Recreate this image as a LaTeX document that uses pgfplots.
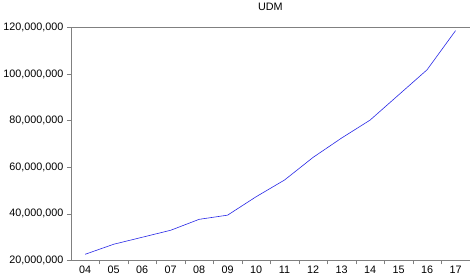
\documentclass[border=0pt]{standalone}
\usepackage{pgfplots}
\pgfplotsset{compat=1.18}
\usepackage{fontspec}
\setmainfont{Liberation Sans}
\definecolor{frame}{RGB}{128,128,128}
\definecolor{series}{RGB}{40,40,230}
\begin{document}
\begin{tikzpicture}
\begin{axis}[
  scale only axis,
  width=399pt, height=233pt,
  xmin=-0.5, xmax=13.5,
  ymin=20000000, ymax=120000000,
  xtick={0,...,13},
  xticklabels={04,05,06,07,08,09,10,11,12,13,14,15,16,17},
  major x tick style={draw=none},
  minor xtick={0.5,1.5,...,12.5},
  minor tick length=4pt,
  ytick={20000000,40000000,60000000,80000000,100000000,120000000},
  yticklabels={{20,000,000},{40,000,000},{60,000,000},{80,000,000},{100,000,000},{120,000,000}},
  scaled y ticks=false,
  tick align=outside,
  major tick length=4pt,
  xtick pos=bottom, ytick pos=left,
  axis line style={frame},
  tick style={frame},
  every tick label/.append style={font=\fontsize{10.8}{12}\selectfont},
  xticklabel style={yshift=2pt},
  title={UDM},
  title style={font=\fontsize{10.8}{12}\selectfont, yshift=7pt},
]
\addplot[series, line width=0.6pt] coordinates {
  (0,22600000) (1,26900000) (2,29900000) (3,32900000) (4,37600000)
  (5,39400000) (6,47300000) (7,54500000) (8,64200000) (9,72500000)
  (10,80200000) (11,91000000) (12,101800000) (13,118600000)
};
\end{axis}
\end{tikzpicture}
\end{document}
